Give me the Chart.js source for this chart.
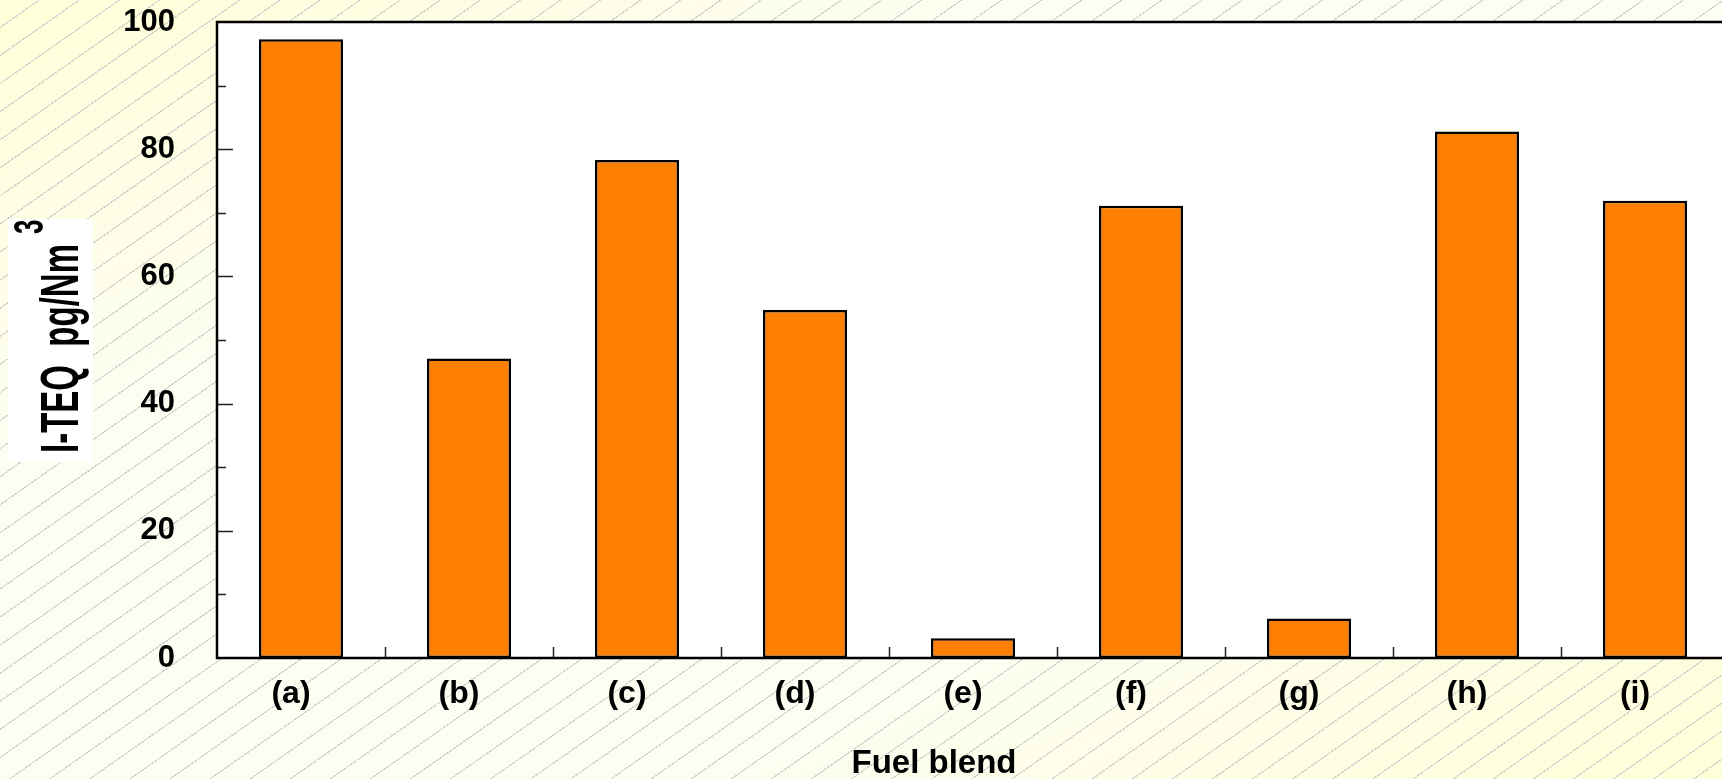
<!DOCTYPE html>
<html>
<head>
<meta charset="utf-8">
<title>I-TEQ by fuel blend</title>
<script src="https://cdn.jsdelivr.net/npm/chart.js"></script>
<style>
  html, body { margin: 0; padding: 0; overflow: hidden; }
  body {
    width: 1722px;
    height: 779px;
    background:
      repeating-linear-gradient(145deg, transparent 0px, transparent 22px, #cdcdcd 22px, #cdcdcd 23px),
      linear-gradient(to bottom right, #ffffd8 0%, #fdfdf2 30%, #fdfdf2 70%, #ffffd8 100%);
  }
  #wrap { position: relative; width: 1740px; height: 779px; }
</style>
</head>
<body>
<div id="wrap"><canvas id="myChart"></canvas></div>
<script>
const labels = ['(a)', '(b)', '(c)', '(d)', '(e)', '(f)', '(g)', '(h)', '(i)'];
const values = [97.3, 47.1, 78.3, 54.7, 3.1, 71.1, 6.2, 82.8, 71.9];
const yMax = 100;
const yStep = 20;
const yTitle = 'I-TEQ  pg/Nm';
const yTitleSup = '3';
const xTitle = 'Fuel blend';

const fontFamily = '"Liberation Sans", Arial, Helvetica, sans-serif';
Chart.defaults.font.family = fontFamily;
Chart.defaults.color = '#000';

// white plot area, frame, inside ticks and the two axis titles
const frame = {
  id: 'frame',
  beforeDraw(chart) {
    const ctx = chart.ctx;
    const a = chart.chartArea;
    ctx.save();
    ctx.fillStyle = '#ffffff';
    ctx.fillRect(a.left, a.top, a.right - a.left, a.bottom - a.top);
    ctx.restore();
  },
  afterDraw(chart) {
    const ctx = chart.ctx;
    const a = chart.chartArea;
    const x = chart.scales.x;
    const y = chart.scales.y;
    ctx.save();

    ctx.strokeStyle = '#222';
    ctx.lineWidth = 1.5;
    for (let v = yStep / 2; v < yMax; v += yStep / 2) {
      const py = Math.round(y.getPixelForValue(v)) + 0.5;
      ctx.beginPath();
      ctx.moveTo(a.left, py);
      ctx.lineTo(a.left + (v % yStep === 0 ? 16 : 9), py);
      ctx.stroke();
    }
    for (let i = 0; i < labels.length - 1; i++) {
      const px = Math.round((x.getPixelForValue(i) + x.getPixelForValue(i + 1)) / 2) + 0.5;
      ctx.beginPath();
      ctx.moveTo(px, a.bottom);
      ctx.lineTo(px, a.bottom - 11);
      ctx.stroke();
    }

    ctx.strokeStyle = '#000';
    ctx.lineWidth = 2.5;
    ctx.strokeRect(a.left, a.top, a.right - a.left, a.bottom - a.top);

    // y title in a white box, drawn tall like the original
    ctx.fillStyle = '#ffffff';
    ctx.fillRect(8, 219, 85, 243);
    ctx.fillStyle = '#000';
    ctx.translate(78, 453);
    ctx.rotate(-Math.PI / 2);
    ctx.scale(1, 1.6);
    ctx.textAlign = 'left';
    ctx.textBaseline = 'alphabetic';
    ctx.font = 'bold 33px ' + fontFamily;
    ctx.fillText(yTitle, 0, 0);
    const w = ctx.measureText(yTitle).width;
    ctx.font = 'bold 26px ' + fontFamily;
    ctx.fillText(yTitleSup, w + 10, -22);
    ctx.restore();

    ctx.save();
    ctx.fillStyle = '#000';
    ctx.font = 'bold 33px ' + fontFamily;
    ctx.textAlign = 'center';
    ctx.textBaseline = 'alphabetic';
    ctx.fillText(xTitle, 934, 773);
    ctx.restore();
  }
};

let data = {
  labels: labels,
  datasets: [{
    label: 'I-TEQ',
    data: values,
    backgroundColor: 'rgb(255, 127, 0)',
    borderColor: '#000',
    borderWidth: 2.5,
    borderSkipped: false,
    barPercentage: 0.5,
    categoryPercentage: 1.0
  }]
};

let config = {
  type: 'bar',
  data: data,
  options: {
    responsive: true,
    maintainAspectRatio: false,
    animation: false,
    layout: { padding: { top: 22, left: 0, right: 11, bottom: 0 } },
    plugins: {
      legend: { display: false },
      tooltip: { enabled: false }
    },
    scales: {
      x: {
        grid: { display: false, drawTicks: false },
        border: { display: false },
        ticks: {
          font: { size: 32, weight: 'bold' },
          padding: 17,
          labelOffset: -10
        },
        afterFit(scale) { scale.height = 121; }
      },
      y: {
        min: 0,
        max: yMax,
        grid: { display: false, drawTicks: false },
        border: { display: false },
        ticks: {
          stepSize: yStep,
          font: { size: 31, weight: 'bold' },
          padding: 42
        },
        afterFit(scale) {
          scale.width = 217;
          scale.paddingTop = 0;
          scale.paddingBottom = 0;
        }
      }
    }
  },
  plugins: [frame]
};

const myChart = new Chart(
  document.getElementById('myChart'),
  config
);
</script>
</body>
</html>
